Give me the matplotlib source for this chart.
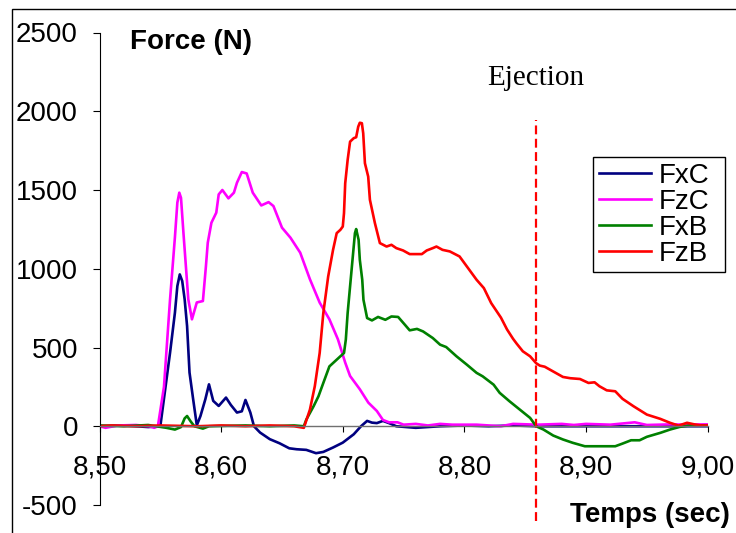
import matplotlib.pyplot as plt
from matplotlib.patches import Rectangle

plt.rcParams["font.family"] = "Liberation Sans"
plt.rcParams["axes.unicode_minus"] = False

# Efforts mesures pendant l'ejection (temps en s, force en N)
t_fxc = [8.500, 8.520, 8.540, 8.550, 8.558, 8.562, 8.564, 8.566, 8.568, 8.570,
         8.572, 8.574, 8.577, 8.580, 8.583, 8.587, 8.590, 8.5935, 8.598, 8.604,
         8.608, 8.613, 8.617, 8.620, 8.624, 8.627, 8.632, 8.640, 8.648, 8.656,
         8.662, 8.670, 8.678, 8.684, 8.692, 8.700, 8.709, 8.715, 8.720, 8.724,
         8.728, 8.733, 8.738, 8.744, 8.760, 8.780, 8.800, 8.820, 8.840, 8.860,
         8.900, 8.950, 9.000]
fxc = [0, 5, -5, 0, 467, 721, 890, 964, 922, 806,
       636, 341, 171, 6, 65, 171, 266, 161, 129, 182,
       135, 87, 95, 167, 87, 0, -40, -82, -108, -140,
       -146, -150, -171, -163, -135, -104, -51, 0, 34, 23,
       20, 34, 20, 0, -10, 0, 5, 0, 5, 0,
       0, 0, 0]

t_fzc = [8.500, 8.505, 8.515, 8.530, 8.541, 8.545, 8.548, 8.553, 8.558, 8.562,
         8.564, 8.5656, 8.567, 8.569, 8.573, 8.576, 8.580, 8.585, 8.5875, 8.589,
         8.592, 8.596, 8.598, 8.601, 8.606, 8.6105, 8.613, 8.617, 8.621, 8.626,
         8.633, 8.639, 8.643, 8.650, 8.657, 8.665, 8.673, 8.681, 8.689, 8.696,
         8.702, 8.706, 8.714, 8.721, 8.728, 8.733, 8.738, 8.745, 8.750, 8.760,
         8.770, 8.780, 8.790, 8.810, 8.830, 8.840, 8.860, 8.880, 8.890, 8.900,
         8.920, 8.940, 8.950, 8.970, 8.980, 9.000]
fzc = [0, -10, 5, 8, 0, -10, 0, 250, 806, 1200,
       1420, 1483, 1450, 1229, 806, 679, 786, 795, 1017, 1165,
       1292, 1356, 1472, 1500, 1447, 1483, 1546, 1614, 1605, 1483,
       1402, 1423, 1398, 1261, 1197, 1102, 933, 785, 679, 552,
       404, 319, 235, 150, 97, 40, 25, 25, 10, 15,
       5, 15, 10, 10, 0, 15, 10, 15, 8, 15,
       10, 25, 8, 12, 10, 12]

t_fxb = [8.500, 8.520, 8.540, 8.555, 8.562, 8.567, 8.570, 8.572, 8.575, 8.578,
         8.585, 8.590, 8.620, 8.640, 8.660, 8.668, 8.670, 8.676, 8.680, 8.684,
         8.689, 8.6935, 8.698, 8.701, 8.7025, 8.704, 8.706, 8.708, 8.710, 8.711,
         8.713, 8.714, 8.716, 8.717, 8.720, 8.724, 8.729, 8.735, 8.740, 8.7455,
         8.751, 8.755, 8.761, 8.766, 8.774, 8.780, 8.785, 8.7935, 8.802, 8.810,
         8.815, 8.824, 8.829, 8.837, 8.8455, 8.854, 8.859, 8.865, 8.873, 8.881,
         8.889, 8.899, 8.909, 8.924, 8.930, 8.937, 8.944, 8.950, 8.961, 8.969,
         8.977, 8.985, 9.000]
fxb = [5, 0, 8, -10, -21, -5, 50, 65, 30, 0,
       -15, 0, 5, 0, 5, 0, 42, 127, 190, 275,
       380, 412, 444, 465, 550, 719, 888, 1057, 1226, 1252,
       1184, 1057, 930, 803, 687, 672, 694, 676, 697, 694,
       645, 609, 618, 602, 560, 518, 503, 444, 391, 339,
       317, 264, 212, 159, 106, 53, 0, -21, -59, -84,
       -105, -127, -127, -127, -110, -89, -89, -67, -42, -21,
       -4, 5, 5]

t_fzb = [8.500, 8.510, 8.530, 8.550, 8.580, 8.600, 8.620, 8.640, 8.660, 8.668,
         8.673, 8.677, 8.681, 8.684, 8.688, 8.692, 8.695, 8.698, 8.700, 8.701,
         8.702, 8.704, 8.706, 8.709, 8.711, 8.7127, 8.714, 8.7157, 8.7168, 8.7182,
         8.7209, 8.7223, 8.7264, 8.7305, 8.736, 8.740, 8.744, 8.7496, 8.755, 8.765,
         8.769, 8.774, 8.777, 8.782, 8.788, 8.796, 8.803, 8.810, 8.816, 8.822,
         8.830, 8.835, 8.840, 8.843, 8.848, 8.854, 8.859, 8.862, 8.866, 8.872,
         8.881, 8.887, 8.895, 8.902, 8.907, 8.911, 8.917, 8.924, 8.930, 8.939,
         8.950, 8.961, 8.969, 8.976, 8.983, 8.989, 8.995, 9.000]
fzb = [0, 5, 0, 5, 0, 5, 0, 5, 0, -10,
       106, 254, 465, 719, 951, 1120, 1226, 1247, 1268, 1353,
       1543, 1691, 1807, 1829, 1835, 1902, 1927, 1924, 1860, 1670,
       1585, 1438, 1290, 1163, 1141, 1152, 1131, 1116, 1093, 1093,
       1116, 1131, 1141, 1120, 1110, 1078, 1004, 930, 877, 782,
       690, 615, 555, 524, 476, 444, 400, 385, 378, 352,
       313, 305, 300, 275, 279, 254, 228, 222, 174, 127,
       74, 47, 22, 4, 22, 12, 5, 5]

ejection_time = 8.859

x_ticks = [8.50, 8.60, 8.70, 8.80, 8.90, 9.00]
x_tick_labels = ["8,50", "8,60", "8,70", "8,80", "8,90", "9,00"]
y_ticks = [-500, 0, 500, 1000, 1500, 2000, 2500]
y_tick_labels = ["-500", "0", "500", "1000", "1500", "2000", "2500"]

W, H = 736, 533
fig = plt.figure(figsize=(W / 100, H / 100), dpi=100)
ax = fig.add_axes([99.5 / W, 1 - 505 / H, 608.2 / W, 472.5 / H])

# cadre du graphique (seuls les bords haut et gauche sont visibles)
fig.patches.append(Rectangle((12 / W, -0.1), 1.2, 1.1 - 9 / H, transform=fig.transFigure,
                             fill=False, edgecolor="black", linewidth=1))

ax.plot(t_fxc, fxc, color="#000080", lw=1.9, label="FxC")
ax.plot(t_fzc, fzc, color="#FF00FF", lw=1.9, label="FzC")
ax.plot(t_fxb, fxb, color="#008000", lw=1.9, label="FxB")
ax.plot(t_fzb, fzb, color="#FF0000", lw=1.9, label="FzB")

ax.vlines(ejection_time, -600, 1945, colors="#FF0000", linestyles=(0, (4, 2)),
          linewidth=1.6, clip_on=False)
ax.text(ejection_time, 2210, "Ejection", family="Liberation Serif", fontsize=21,
        ha="center", va="center")

ax.set_xlim(8.5, 9.0)
ax.set_ylim(-500, 2500)
ax.set_xticks(x_ticks, x_tick_labels)
ax.set_yticks(y_ticks, y_tick_labels)

for side in ["top", "right"]:
    ax.spines[side].set_visible(False)
ax.spines["bottom"].set_position(("data", 0))
ax.spines["bottom"].set_color("#707070")
ax.spines["bottom"].set_linewidth(1)
ax.spines["left"].set_color("black")
ax.spines["left"].set_linewidth(0.8)
ax.tick_params(axis="x", direction="out", length=4.5, width=0.8, pad=16, labelsize=20)
ax.tick_params(axis="y", direction="out", length=5, width=0.8, pad=10.5, labelsize=20)

fig.text(130 / W, 1 - 42 / H, "Force (N)", fontsize=20, fontweight="bold",
         ha="left", va="center")
fig.text(730 / W, 1 - 515 / H, "Temps (sec)", fontsize=20, fontweight="bold",
         ha="right", va="center")

leg = ax.legend(loc="upper left", bbox_to_anchor=(593 / W, 1 - 295 / H, 132 / W, 138 / H),
                bbox_transform=fig.transFigure, mode="expand", borderaxespad=0,
                fontsize=20, frameon=True, fancybox=False, framealpha=1,
                edgecolor="black", borderpad=0.2, labelspacing=0.0,
                handlelength=1.9, handletextpad=0.25)
leg.get_frame().set_linewidth(1)

fig.savefig("out.png", dpi=100)
